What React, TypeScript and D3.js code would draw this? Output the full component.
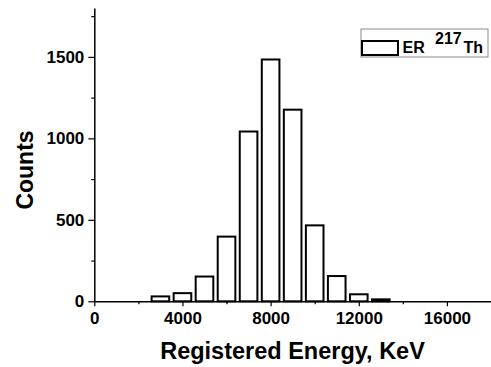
import React, { useRef, useEffect } from 'react';
import * as d3 from 'd3';

// histogram bins (KeV) and counts
const energies = [3000, 4000, 5000, 6000, 7000, 8000, 9000, 10000, 11000, 12000, 13000];
const counts = [30, 50, 152, 397, 1042, 1484, 1176, 466, 155, 43, 12];
const xTicks = [0, 4000, 8000, 12000, 16000];
const xMinorTicks = [2000, 6000, 10000, 14000];
const yTicks = [0, 500, 1000, 1500];
const yMinorTicks = [250, 750, 1250, 1750];

const W = 491;
const H = 367;
const FONT = '"Liberation Sans", Arial, sans-serif';

const App: React.FC = () => {
  const svgRef = useRef<SVGSVGElement | null>(null);

  useEffect(() => {
    const svg = d3.select(svgRef.current);
    svg.selectAll('*').remove();

    const x = d3.scaleLinear().domain([0, 18000]).range([94.3, 491]);
    const y = d3.scaleLinear().domain([0, 1800]).range([301.3, 8]);
    const binW = x(1000) - x(0);
    const barW = binW * 0.8;

    // bars
    svg.append('g')
      .selectAll('rect')
      .data(energies)
      .enter().append('rect')
      .attr('x', (d) => x(d) - barW / 2)
      .attr('y', (_, i) => y(counts[i]))
      .attr('width', barW)
      .attr('height', (_, i) => y(0) - y(counts[i]))
      .attr('fill', 'white')
      .attr('stroke', 'black')
      .attr('stroke-width', 2);

    // x axis
    const gx = svg.append('g').attr('transform', `translate(0,${y(0)})`);
    gx.call(d3.axisBottom(x).tickValues(xTicks).tickSize(5).tickSizeOuter(0).tickFormat(d3.format('d')));
    gx.append('g').call(d3.axisBottom(x).tickValues(xMinorTicks).tickSize(3).tickSizeOuter(0).tickFormat(() => ''))
      .select('.domain').remove();

    // y axis
    const gy = svg.append('g').attr('transform', `translate(${x(0)},0)`);
    gy.call(d3.axisLeft(y).tickValues(yTicks).tickSize(6).tickSizeOuter(0).tickFormat(d3.format('d')));
    gy.append('g').call(d3.axisLeft(y).tickValues(yMinorTicks).tickSize(3).tickSizeOuter(0).tickFormat(() => ''))
      .select('.domain').remove();

    svg.selectAll('.domain').attr('stroke', 'black').attr('stroke-width', 1.5);
    svg.selectAll('.tick line').attr('stroke', 'black').attr('stroke-width', 1.2);
    svg.selectAll('.tick text')
      .attr('font-family', FONT)
      .attr('font-weight', 'bold')
      .attr('font-size', 17)
      .attr('fill', 'black');
    gx.selectAll('.tick text').attr('dy', '0.85em');
    gy.selectAll('.tick text').attr('x', -10);

    // axis titles
    svg.append('text')
      .attr('x', 292.5)
      .attr('y', 359)
      .attr('text-anchor', 'middle')
      .attr('font-family', FONT)
      .attr('font-weight', 'bold')
      .attr('font-size', 23.5)
      .text('Registered Energy, KeV');

    svg.append('text')
      .attr('transform', 'translate(33,170) rotate(-90)')
      .attr('text-anchor', 'middle')
      .attr('font-family', FONT)
      .attr('font-weight', 'bold')
      .attr('font-size', 23)
      .text('Counts');

    // legend
    const lg = svg.append('g');
    lg.append('rect')
      .attr('x', 361).attr('y', 29).attr('width', 127).attr('height', 28)
      .attr('fill', 'white').attr('stroke', '#8a8a8a').attr('stroke-width', 1);
    lg.append('rect')
      .attr('x', 362).attr('y', 41).attr('width', 36).attr('height', 14)
      .attr('fill', 'white').attr('stroke', 'black').attr('stroke-width', 2);
    const t = lg.append('text')
      .attr('font-family', FONT)
      .attr('font-weight', 'bold')
      .attr('font-size', 16)
      .attr('fill', 'black');
    t.append('tspan').attr('x', 402.5).attr('y', 53).text('ER');
    t.append('tspan').attr('x', 435).attr('y', 44).text('217');
    t.append('tspan').attr('x', 463.5).attr('y', 53).text('Th');
  }, []);

  return (
    <svg
      ref={svgRef}
      width={W}
      height={H}
      style={{ position: 'absolute', left: 0, top: 0, background: 'white' }}
    />
  );
};

export default App;
